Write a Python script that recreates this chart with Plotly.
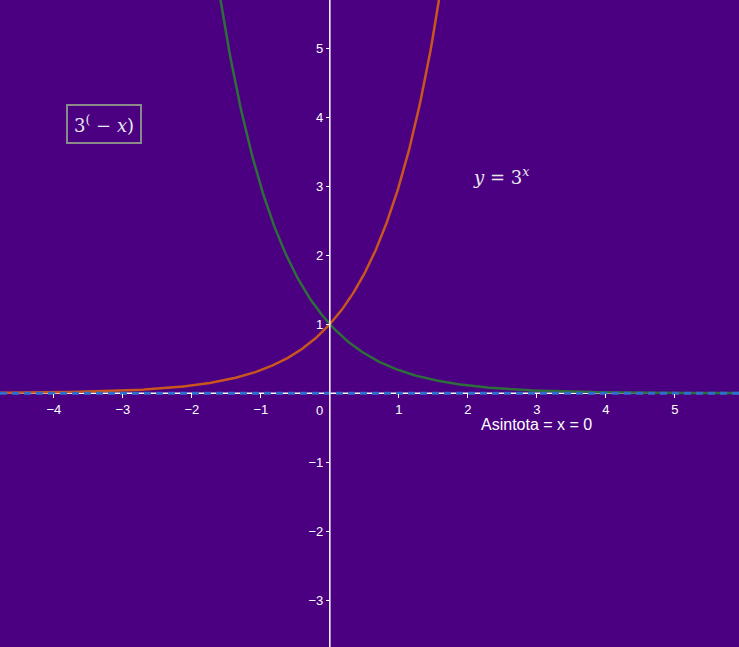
import numpy as np
import plotly.graph_objects as go

# Data
x_range = [-4.78, 5.93]
y_range = [-3.68, 5.70]
x_ticks = [-4, -3, -2, -1, 1, 2, 3, 4, 5]
y_ticks = [-3, -2, -1, 1, 2, 3, 4, 5]
x_vals = np.linspace(-4.78, 5.93, 600)
base = 3.0
y_exp = base ** x_vals          # y = 3^x
y_exp_neg = base ** (-x_vals)   # y = 3^(-x)
asymptote_y = [0, 0]

BG = "#4B0082"

fig = go.Figure()
fig.add_trace(go.Scatter(x=x_vals, y=y_exp_neg, mode="lines",
                         line=dict(color="#2E6E3A", width=2.5)))
fig.add_trace(go.Scatter(x=x_vals, y=y_exp, mode="lines",
                         line=dict(color="#C8561E", width=2.5)))
fig.add_trace(go.Scatter(x=x_range, y=asymptote_y, mode="lines",
                         line=dict(color="#2F6FD0", width=3, dash="7px,5px"),
                         hoverinfo="skip"))

xpos = (0 - x_range[0]) / (x_range[1] - x_range[0])
ypos = (0 - y_range[0]) / (y_range[1] - y_range[0])

def fmt(v):
    return f"\u2212{-v}" if v < 0 else str(v)

fig.update_layout(
    width=739, height=647,
    margin=dict(l=0, r=0, t=0, b=0),
    paper_bgcolor=BG, plot_bgcolor=BG,
    showlegend=False,
    xaxis=dict(range=x_range, showgrid=False, zeroline=False,
               anchor="free", position=ypos,
               showline=False, ticks="outside", ticklen=4, tickcolor="white",
               tickvals=x_ticks, ticktext=[fmt(v) for v in x_ticks],
               tickfont=dict(color="white", size=13, family="Arial")),
    yaxis=dict(range=y_range, showgrid=False, zeroline=False,
               anchor="free", position=xpos,
               showline=False, ticks="outside", ticklen=4, tickcolor="white",
               tickvals=y_ticks, ticktext=[fmt(v) for v in y_ticks],
               tickfont=dict(color="white", size=13, family="Arial")),
    shapes=[
        dict(type="line", xref="paper", yref="y", x0=0, x1=1, y0=0, y1=0,
             line=dict(color="white", width=1.5), layer="below"),
        dict(type="line", xref="x", yref="paper", x0=0, x1=0, y0=0, y1=1,
             line=dict(color="white", width=1.5), layer="above"),
    ],
    annotations=[
        dict(x=0, y=0, xref="x", yref="y", text="0", showarrow=False,
             xshift=-10, yshift=-17, font=dict(color="white", size=13, family="Arial")),
        dict(x=-3.27, y=3.9, xref="x", yref="y",
             text="3<sup>(</sup> \u2212 <i>x</i>)", showarrow=False,
             font=dict(color="#E8E8F0", size=18, family="DejaVu Serif"),
             bordercolor="#8a8a8a", borderwidth=2, borderpad=6),
        dict(x=2.48, y=3.15, xref="x", yref="y",
             text="<i>y</i> = 3<sup><i>x</i></sup>", showarrow=False,
             font=dict(color="#E8E8F0", size=18, family="DejaVu Serif")),
        dict(x=3.0, y=-0.45, xref="x", yref="y",
             text="Asintota = x = 0", showarrow=False,
             font=dict(color="white", size=16, family="Arial")),
    ],
)

fig.write_html("out.html", config={"displayModeBar": False},
               post_script="document.body.style.margin='0';document.body.style.overflow='hidden';")
